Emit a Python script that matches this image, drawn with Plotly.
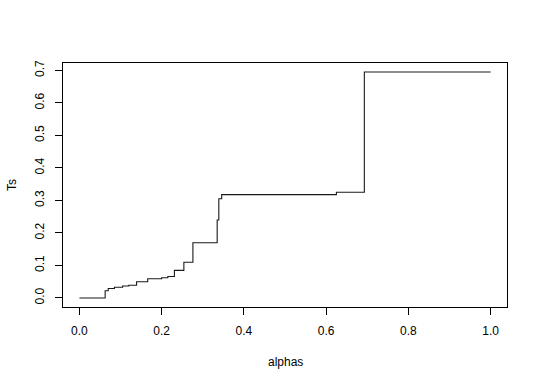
import plotly.graph_objects as go

alphas = [0.0, 0.0625, 0.07, 0.085, 0.105, 0.12, 0.139, 0.166, 0.20, 0.215,
          0.231, 0.254, 0.276, 0.335, 0.339, 0.346, 0.625, 0.693, 1.0]
Ts = [0.0, 0.022, 0.029, 0.033, 0.037, 0.039, 0.050, 0.059, 0.062, 0.066,
      0.085, 0.110, 0.170, 0.240, 0.305, 0.318, 0.325, 0.695, 0.695]

x_ticks = [0.0, 0.2, 0.4, 0.6, 0.8, 1.0]
y_ticks = [0.0, 0.1, 0.2, 0.3, 0.4, 0.5, 0.6, 0.7]

fig = go.Figure()
fig.add_trace(go.Scatter(x=alphas, y=Ts, mode="lines",
                         line=dict(shape="hv", color="#1a1a1a", width=1.1),
                         showlegend=False, hoverinfo="skip"))

font = dict(family="Liberation Sans, Arial, sans-serif", size=12, color="black")

fig.update_layout(
    width=540, height=386,
    margin=dict(l=63, r=33, t=63, b=79),
    paper_bgcolor="white", plot_bgcolor="white",
    font=font,
    xaxis=dict(range=[-0.04, 1.04], tickvals=x_ticks,
               ticktext=[f"{v:.1f}" for v in x_ticks],
               showgrid=False, zeroline=False, showline=True, mirror=True,
               linecolor="black", linewidth=1, ticks="outside", ticklen=7,
               tickcolor="black", tickwidth=1, ticklabelstandoff=6),
    yaxis=dict(range=[-0.0278, 0.7228], tickvals=y_ticks,
               ticktext=[f"{v:.1f}" for v in y_ticks],
               showgrid=False, zeroline=False, showline=True, mirror=True,
               linecolor="black", linewidth=1, ticks="outside", ticklen=7,
               tickcolor="black", tickwidth=1, tickangle=-90,
               ticklabelstandoff=6),
    annotations=[
        dict(text="alphas", xref="paper", yref="paper", x=0.5, y=-0.225,
             showarrow=False, font=font, xanchor="center", yanchor="middle"),
        dict(text="Ts", xref="paper", yref="paper", x=-0.115, y=0.5,
             showarrow=False, font=font, textangle=-90,
             xanchor="center", yanchor="middle"),
    ],
)

fig.write_html("out.html")
